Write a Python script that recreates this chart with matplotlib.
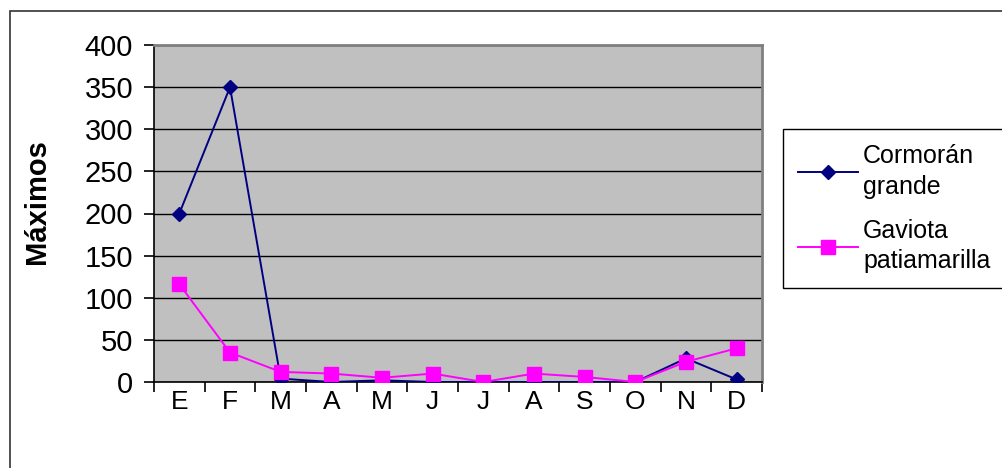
import matplotlib
matplotlib.use("Agg")
import matplotlib.pyplot as plt
from matplotlib.patches import Rectangle

# meses y máximos mensuales de cada especie
meses = ['E', 'F', 'M', 'A', 'M', 'J', 'J', 'A', 'S', 'O', 'N', 'D']
cormoran = [200, 350, 4, 0, 2, 0, 0, 0, 0, 0, 28, 3]
gaviota = [116, 35, 12, 10, 5, 10, 0, 10, 6, 0, 24, 40]

plt.rcParams['font.family'] = ['Liberation Sans', 'DejaVu Sans']

fig = plt.figure(figsize=(10.02, 4.68), dpi=100)

# marco exterior del gráfico
fig.patches.append(Rectangle((10 / 1002, -0.05), 1.1, (468 - 11) / 468 + 0.05,
                             transform=fig.transFigure, fill=False,
                             edgecolor='#333333', linewidth=1.2))

ax = fig.add_axes([154 / 1002, 86 / 468, 608 / 1002, 337 / 468])
ax.set_facecolor('#C0C0C0')

x = list(range(len(meses)))
ax.plot(x, cormoran, color='#000080', marker='D', markersize=7,
        linewidth=1.4, label='Cormorán\ngrande', zorder=3)
ax.plot(x, gaviota, color='#FF00FF', marker='s', markersize=10,
        linewidth=1.4, label='Gaviota\npatiamarilla', zorder=4)

ax.set_xlim(-0.5, len(meses) - 0.5)
ax.set_ylim(0, 400)
ax.set_yticks(range(0, 401, 50))
ax.yaxis.grid(True, color='black', linewidth=1)
ax.set_axisbelow(True)

# etiquetas centradas en cada mes, marcas entre categorías
ax.set_xticks(x)
ax.set_xticklabels(meses)
ax.set_xticks([i - 0.5 for i in range(len(meses) + 1)], minor=True)
ax.tick_params(axis='x', which='major', length=0, pad=6, labelsize=19)
ax.tick_params(axis='x', which='minor', length=7, width=1.2, direction='out')
ax.tick_params(axis='y', length=7, width=1.2, direction='out', pad=8, labelsize=21)

for s in ['left', 'bottom']:
    ax.spines[s].set_color('black')
    ax.spines[s].set_linewidth(1.2)
for s in ['top', 'right']:
    ax.spines[s].set_color('#808080')
    ax.spines[s].set_linewidth(2)

ax.set_ylabel('Máximos', fontsize=21, fontweight='bold')
ax.yaxis.set_label_coords(-0.17, 0.535)

leg = ax.legend(loc='upper left', bbox_to_anchor=(783 / 1002, (468 - 129) / 468),
                bbox_transform=fig.transFigure, fontsize=18, frameon=True,
                fancybox=False, edgecolor='black', framealpha=1,
                handlelength=2.4, handletextpad=0.2, labelspacing=0.8,
                borderpad=0.6, borderaxespad=0)
leg.get_frame().set_linewidth(1)
for t in leg.get_texts():
    t.set_linespacing(1.35)

fig.savefig('out.png', dpi=100)
